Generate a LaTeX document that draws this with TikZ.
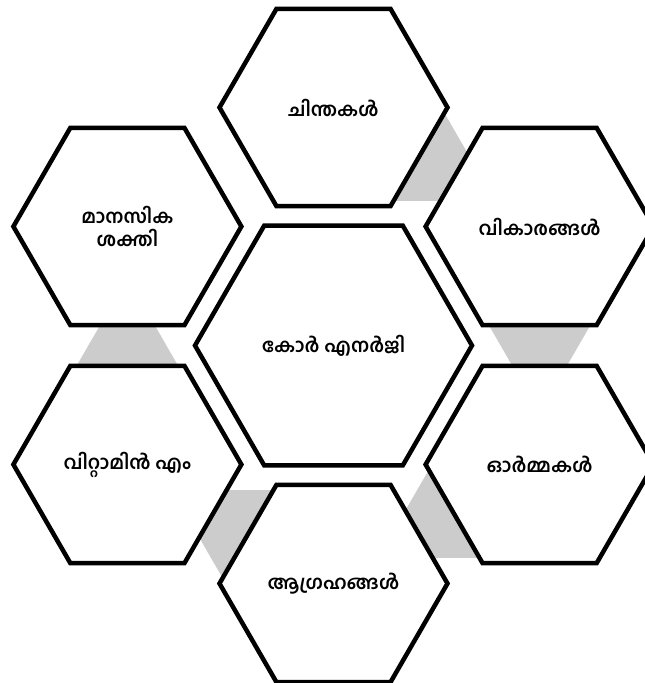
\documentclass[tikz,border=0pt]{standalone}
\usepackage{fontspec}
\newfontfamily\mlfont[Script=Malayalam]{Hind Kochi}
\usetikzlibrary{shapes.geometric,calc,backgrounds}

\tikzset{
  hexbox/.style={regular polygon,regular polygon sides=6,minimum size=228pt,inner sep=0pt,
    draw=black,line width=4.5pt,fill=white,align=center,
    font={\mlfont\bfseries\fontsize{19}{23}\selectfont}},
  corebox/.style={hexbox,minimum size=277pt},
  link/.style={fill=black!20}
}

\begin{document}
\begin{tikzpicture}
\useasboundingbox (-333.5pt,-337.5pt) rectangle (311.5pt,345.5pt);
% centre and the six outer cells
\node[corebox] (core) at (0,0) {കോർ എനർജി};
\node[hexbox] (chin) at (90:238pt) {ചിന്തകൾ};
\node[hexbox] (vik) at (30:238pt) {വികാരങ്ങൾ};
\node[hexbox] (orm) at (-30:238pt) {ഓർമ്മകൾ};
\node[hexbox] (agr) at (-90:238pt) {ആഗ്രഹങ്ങൾ};
\node[hexbox] (vit) at (210:238pt) {വിറ്റാമിൻ എം};
\node[hexbox] (mana) at (150:238pt) {മാനസിക\\ശക്തി};
% grey links behind the cells
\begin{pgfonlayer}{background}
\foreach \src/\dst in {mana/vit,vit/agr,agr/orm,orm/vik,vik/chin}
  \fill[link] ($(\src.center)!90pt!(\dst.center)!22.3pt!90:(\dst.center)$)
    -- ($(\src.center)!160pt!(\dst.center)!62.7pt!90:(\dst.center)$)
    -- ($(\src.center)!160pt!(\dst.center)!62.7pt!-90:(\dst.center)$)
    -- ($(\src.center)!90pt!(\dst.center)!22.3pt!-90:(\dst.center)$) -- cycle;
\end{pgfonlayer}
\end{tikzpicture}
\end{document}
